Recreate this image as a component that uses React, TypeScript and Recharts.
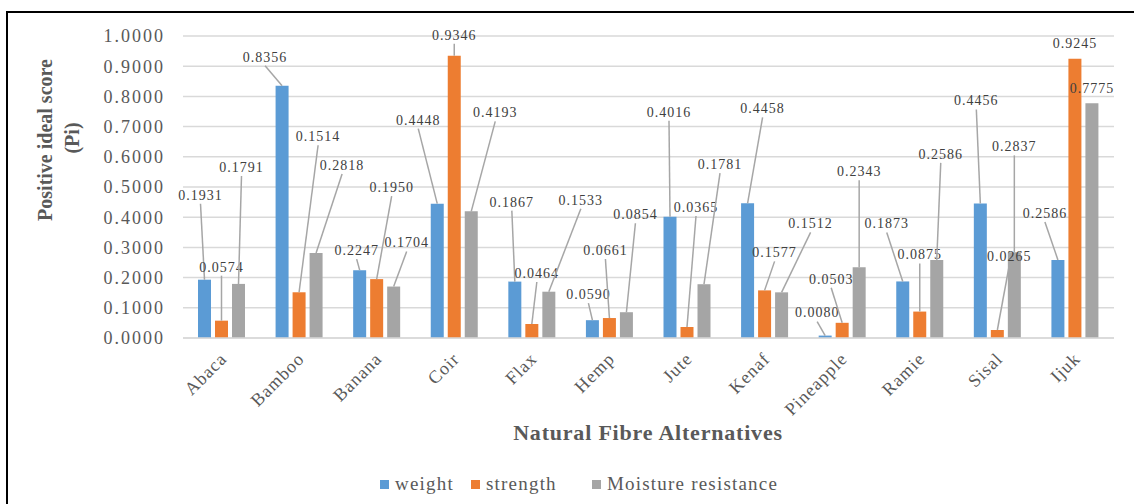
import React from 'react'
import { BarChart, Bar, XAxis, YAxis, CartesianGrid, Legend, LabelList } from 'recharts'

const categories = ['Abaca', 'Bamboo', 'Banana', 'Coir', 'Flax', 'Hemp', 'Jute', 'Kenaf', 'Pineapple', 'Ramie', 'Sisal', 'Ijuk']
const weight = [0.1931, 0.8356, 0.2247, 0.4448, 0.1867, 0.059, 0.4016, 0.4458, 0.008, 0.1873, 0.4456, 0.2586]
const strength = [0.0574, 0.1514, 0.195, 0.9346, 0.0464, 0.0661, 0.0365, 0.1577, 0.0503, 0.0875, 0.0265, 0.9245]
const moisture = [0.1791, 0.2818, 0.1704, 0.4193, 0.1533, 0.0854, 0.1781, 0.1512, 0.2343, 0.2586, 0.2837, 0.7775]
const yTicks = [0, 0.1, 0.2, 0.3, 0.4, 0.5, 0.6, 0.7, 0.8, 0.9, 1]

// where each data label sits relative to the top of its bar (Excel style leader lines)
const weightLabelOffsets = [[-4, -85], [-17, -29], [-3, -20], [-19, -84], [-3, -80], [-4, -26], [-1, -105], [15, -95], [-8, -23], [-16, -58], [-4, -103], [-13, -47]]
const strengthLabelOffsets = [[0, -54], [19, -156], [15, -92], [0, -21], [5, -51], [-4, -68], [9, -120], [10, -38], [-11, -44], [0, -57], [12, -74], [0, -16]]
const moistureLabelOffsets = [[3, -117], [26, -88], [13, -44], [24, -99], [32, -92], [9, -98], [16, -120], [29, -69], [0, -96], [4, -106], [0, -106], [0, -15]]

const data = categories.map((name, i) => ({
  name,
  weight: weight[i],
  strength: strength[i],
  moisture: moisture[i],
}))

const FONT = '"Liberation Serif", "Times New Roman", serif'
const TEXT = '#595959'

const leaderLabel = (offsets: number[][]) => (props: any) => {
  const { x, y, width, value, index } = props
  const bx = Number(x) + Number(width) / 2
  const by = Number(y)
  const [dx, dy] = offsets[index]
  const lx = bx + dx
  const ly = by + dy
  return (
    <g>
      {dy < -18 && <line x1={bx} y1={by} x2={lx} y2={ly + 9} stroke="#a6a6a6" strokeWidth={1.5} />}
      <text x={lx} y={ly} dy="0.35em" textAnchor="middle" fill="#404040" fontSize={14} letterSpacing={1} fontFamily={FONT}>
        {Number(value).toFixed(4)}
      </text>
    </g>
  )
}

const CategoryTick = (props: any) => {
  const { x, y, payload } = props
  return (
    <text transform={`translate(${x + 6},${y + 22}) rotate(-45)`} textAnchor="end" fill={TEXT} fontSize={18} letterSpacing={1} fontFamily={FONT}>
      {payload.value}
    </text>
  )
}

const legendLefts: Record<string, number> = { weight: 380, strength: 471, 'Moisture resistance': 592 }

const LegendBox = (props: any) => (
  <div style={{ position: 'relative', width: 1134, height: 28 }}>
    {props.payload.map((item: any) => (
      <div key={item.value} style={{ position: 'absolute', left: legendLefts[item.value], top: 0, display: 'flex', alignItems: 'center', height: 28 }}>
        <span style={{ width: 9, height: 9, background: item.color, display: 'inline-block', marginRight: 6 }} />
        <span style={{ fontFamily: FONT, fontSize: 19, letterSpacing: 1.2, color: TEXT }}>{item.value}</span>
      </div>
    ))}
  </div>
)

export default function App() {
  return (
    <div style={{ position: 'absolute', left: 0, top: 0, width: 1134, height: 504, background: '#fff', overflow: 'hidden' }}>
      <div style={{ position: 'absolute', left: 6, top: 11, width: 1140, height: 510, borderTop: '2px solid #000', borderLeft: '2px solid #000' }} />
      <BarChart
        width={1134}
        height={504}
        data={data}
        margin={{ top: 36, right: 20, left: 0, bottom: 2 }}
        barGap={4}
        barSize={13}
      >
        <CartesianGrid vertical={false} stroke="#d9d9d9" strokeWidth={1.5} />
        <XAxis
          dataKey="name"
          height={136}
          interval={0}
          tickLine={false}
          tickSize={0}
          tickMargin={0}
          axisLine={{ stroke: '#d9d9d9', strokeWidth: 1.5 }}
          tick={<CategoryTick />}
          label={{
            content: () => (
              <text x={648} y={432} dy="0.35em" textAnchor="middle" fill={TEXT} fontSize={22} letterSpacing={0.8} fontWeight="bold" fontFamily={FONT}>
                Natural Fibre Alternatives
              </text>
            ),
          }}
        />
        <YAxis
          width={183}
          domain={[0, 1]}
          ticks={yTicks}
          axisLine={false}
          tickLine={false}
          tickSize={0}
          tickMargin={18}
          tickFormatter={(v: number) => v.toFixed(4)}
          tick={{ fill: TEXT, fontSize: 18, letterSpacing: 2, fontFamily: FONT }}
          label={{
            content: () => (
              <g fill={TEXT} fontSize={20} fontWeight="bold" fontFamily={FONT}>
                <text transform="translate(45,140) rotate(-90)" textAnchor="middle" dy="0.35em">Positive ideal score</text>
                <text transform="translate(72,138) rotate(-90)" textAnchor="middle" dy="0.35em">(Pi)</text>
              </g>
            ),
          }}
        />
        <Legend
          verticalAlign="bottom"
          content={<LegendBox />}
          wrapperStyle={{ position: 'absolute', left: 0, top: 470, width: 1134, height: 28 }}
        />
        <Bar dataKey="weight" name="weight" fill="#5b9bd5" isAnimationActive={false}>
          <LabelList dataKey="weight" content={leaderLabel(weightLabelOffsets)} />
        </Bar>
        <Bar dataKey="strength" name="strength" fill="#ed7d31" isAnimationActive={false}>
          <LabelList dataKey="strength" content={leaderLabel(strengthLabelOffsets)} />
        </Bar>
        <Bar dataKey="moisture" name="Moisture resistance" fill="#a5a5a5" isAnimationActive={false}>
          <LabelList dataKey="moisture" content={leaderLabel(moistureLabelOffsets)} />
        </Bar>
      </BarChart>
    </div>
  )
}
